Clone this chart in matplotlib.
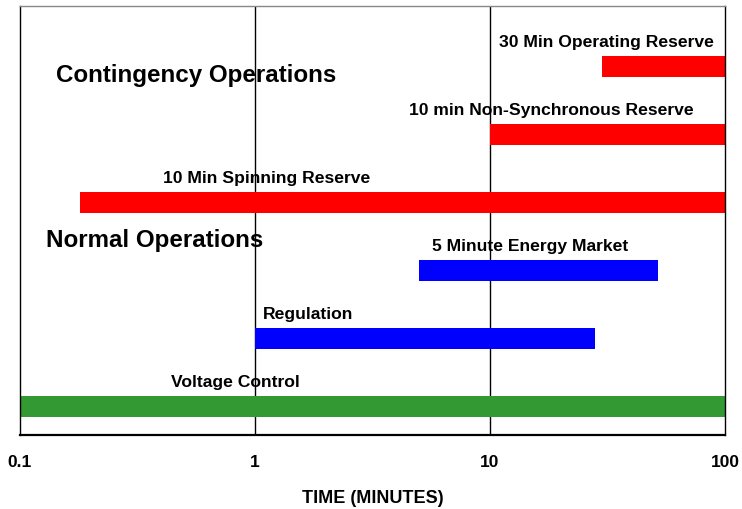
import matplotlib
matplotlib.use('Agg')
import matplotlib.pyplot as plt

plt.rcParams['font.family'] = ['Liberation Sans', 'DejaVu Sans']

# ── Data ─────────────────────────────────────────────────────────
# rows listed bottom to top
services = ['Voltage Control', 'Regulation', '5 Minute Energy Market',
            '10 Min Spinning Reserve', '10 min Non-Synchronous Reserve',
            '30 Min Operating Reserve']
start_min = [0.1, 1, 5, 0.18, 10, 30]
end_min = [100, 28, 52, 100, 100, 100]
colors = ['#339933', '#0000FF', '#0000FF', '#FF0000', '#FF0000', '#FF0000']
label_x = [0.44, 1.08, 5.66, 0.405, 4.52, 10.9]

tick_vals = [0.1, 1, 10, 100]
tick_labels = ['0.1', '1', '10', '100']

# ── Plot ─────────────────────────────────────────────────────────
fig = plt.figure(figsize=(7.42, 5.10), dpi=100)
ax = fig.add_axes([20 / 742, 1 - 436 / 510, 705 / 742, 429 / 510])
ax.set_xscale('log')
ax.set_xlim(0.1, 100)
ax.set_ylim(-0.42, 5.89)

for x in [1, 10]:
    ax.axvline(x, color='black', linewidth=1, zorder=1)

for i, (s, e, c) in enumerate(zip(start_min, end_min, colors)):
    ax.barh(i, e - s, left=s, height=0.32, color=c, zorder=2)
    ax.text(label_x[i], i + 0.37, services[i], fontsize=12.6,
            fontweight='bold', ha='left', va='center', zorder=3)

ax.text(0.142, 4.88, 'Contingency Operations', fontsize=17.4,
        fontweight='bold', ha='left', va='center', zorder=3)
ax.text(0.129, 2.46, 'Normal Operations', fontsize=17.4,
        fontweight='bold', ha='left', va='center', zorder=3)

# ── Labels & Formatting ──────────────────────────────────────────
ax.set_xticks(tick_vals)
ax.set_xticklabels(tick_labels, fontsize=12.5, fontweight='bold')
ax.minorticks_off()
ax.set_yticks([])
ax.tick_params(axis='x', length=0, pad=14)
ax.set_xlabel('TIME (MINUTES)', fontsize=13, fontweight='bold', labelpad=14)
for sp in ax.spines.values():
    sp.set_color('black')
    sp.set_linewidth(1.0)
ax.spines['bottom'].set_linewidth(1.6)
ax.spines['top'].set_color('#888888')

fig.savefig('out.png', dpi=100)
